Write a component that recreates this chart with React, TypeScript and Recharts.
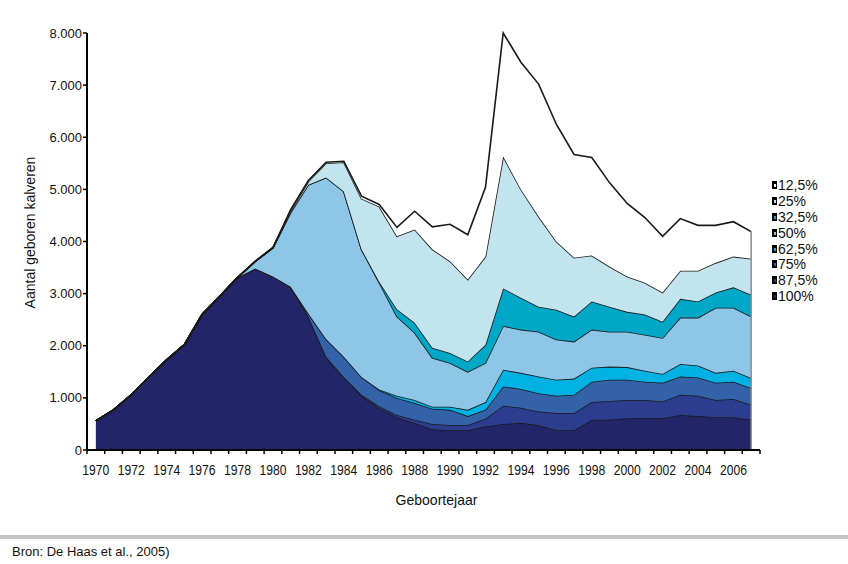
import React from 'react';
import { AreaChart, Area, XAxis, YAxis, ReferenceLine, Label } from 'recharts';

// Geboren kalveren per jaar, naar aandeel bloed (gestapeld, 100% onderaan)
const years = [
  1970, 1971, 1972, 1973, 1974, 1975, 1976, 1977, 1978, 1979,
  1980, 1981, 1982, 1983, 1984, 1985, 1986, 1987, 1988, 1989,
  1990, 1991, 1992, 1993, 1994, 1995, 1996, 1997, 1998, 1999,
  2000, 2001, 2002, 2003, 2004, 2005, 2006, 2007,
];

const p100 = [
  560, 770, 1060, 1400, 1730, 2020, 2600, 2950, 3310, 3480,
  3330, 3130, 2560, 1790, 1400, 1040, 800, 630, 520, 400,
  380, 380, 450, 500, 520, 480, 380, 380, 580, 580,
  610, 610, 610, 670, 650, 630, 630, 580,
];
const p875 = [
  0, 0, 0, 0, 0, 0, 0, 0, 0, 0,
  0, 0, 0, 0, 0, 20, 40, 40, 60, 100,
  100, 100, 150, 350, 290, 260, 330, 330, 340, 360,
  350, 350, 320, 390, 390, 330, 350, 290,
];
const p75 = [
  0, 0, 0, 0, 0, 0, 0, 0, 0, 0,
  0, 0, 60, 340, 390, 340, 310, 330, 320, 290,
  290, 170, 170, 370, 360, 350, 330, 350, 390, 410,
  390, 350, 360, 350, 350, 330, 330, 320,
];
const p625 = [
  0, 0, 0, 0, 0, 0, 0, 0, 0, 0,
  0, 0, 0, 0, 0, 0, 10, 40, 60, 40,
  60, 120, 150, 320, 310, 320, 310, 310, 270, 250,
  240, 210, 170, 240, 230, 190, 210, 190,
];
const p50 = [
  0, 0, 0, 0, 0, 0, 0, 0, 0, 140,
  550, 1430, 2470, 3100, 3170, 2450, 2050, 1520, 1290, 940,
  840, 730, 750, 840, 830, 860, 770, 710, 730, 670,
  680, 690, 690, 890, 920, 1250, 1210, 1180,
];
const p325 = [
  0, 0, 0, 0, 0, 0, 0, 0, 0, 0,
  0, 0, 0, 0, 0, 0, 20, 140, 190, 190,
  190, 200, 350, 720, 610, 480, 570, 480, 540, 480,
  380, 390, 310, 360, 310, 290, 390, 420,
];
const p25 = [
  0, 0, 0, 0, 0, 0, 0, 0, 0, 0,
  0, 30, 60, 270, 560, 970, 1440, 1400, 1790, 1890,
  1760, 1570, 1690, 2530, 2080, 1730, 1310, 1130, 880, 770,
  680, 610, 560, 540, 590, 570, 590, 690,
];
const p125 = [
  0, 0, 0, 0, 0, 0, 0, 0, 0, 0,
  0, 20, 20, 20, 20, 50, 40, 170, 350, 430,
  710, 860, 1330, 2370, 2440, 2540, 2250, 1980, 1880, 1610,
  1400, 1250, 1080, 1000, 870, 720, 670, 520,
];

const yTicks = [0, 1000, 2000, 3000, 4000, 5000, 6000, 7000, 8000];

// legend order top -> bottom
const series = [
  { key: 'p125', name: '12,5%', color: '#ffffff', values: p125 },
  { key: 'p25', name: '25%', color: '#c2e4ee', values: p25 },
  { key: 'p325', name: '32,5%', color: '#00a7c6', values: p325 },
  { key: 'p50', name: '50%', color: '#8ec6e8', values: p50 },
  { key: 'p625', name: '62,5%', color: '#00b2e3', values: p625 },
  { key: 'p75', name: '75%', color: '#3462a8', values: p75 },
  { key: 'p875', name: '87,5%', color: '#2c3d90', values: p875 },
  { key: 'p100', name: '100%', color: '#222668', values: p100 },
];

const data = years.map((year, i) => {
  const row: any = { year };
  series.forEach((s) => (row[s.key] = s.values[i]));
  return row;
});

const lastTotal = series.reduce((sum, s) => sum + s.values[s.values.length - 1], 0);

// tick marks between the years, labels on every second year
const xTicks = years.map((y) => y - 0.5).concat([years[years.length - 1] + 0.5]);

const PLOT_W = 673;
const band = PLOT_W / years.length;

function YearTick({ x, y, payload }: any) {
  const year = payload.value + 0.5;
  if (year % 2 !== 0 || year > years[years.length - 1]) return null;
  return (
    <text
      x={x + band / 2}
      y={y}
      dy={19}
      textAnchor="middle"
      fontSize={14}
      textLength={27}
      lengthAdjust="spacingAndGlyphs"
      fontFamily="'Liberation Sans', Arial, sans-serif"
      fill="#111"
    >
      {year}
    </text>
  );
}

function XTitle({ viewBox }: any) {
  const { x, y, width } = viewBox;
  return (
    <text
      x={x + width / 2 + 13}
      y={y + 55}
      textAnchor="middle"
      fontSize={15}
      textLength={82}
      lengthAdjust="spacingAndGlyphs"
      fontFamily="'Liberation Sans', Arial, sans-serif"
      fill="#111"
    >
      Geboortejaar
    </text>
  );
}

const fmt = (v: number) => (v === 0 ? '0' : `${v / 1000}.000`);

function SideLegend() {
  return (
    <div
      style={{
        position: 'absolute',
        left: 771,
        top: 177,
        fontFamily: "'Liberation Sans', Arial, sans-serif",
        fontSize: 14,
        color: '#111',
      }}
    >
      {series.map((s) => (
        <div key={s.key} style={{ height: 15.9, lineHeight: '16px', display: 'flex', alignItems: 'center' }}>
          <svg width={7} height={8} style={{ marginRight: 0 }}>
            <rect x={1} y={0} width={5} height={8} fill="#000" />
            <rect x={3} y={3} width={2} height={3} fill={s.color} />
          </svg>
          <span>{s.name}</span>
        </div>
      ))}
    </div>
  );
}

export default function App() {
  const areas = [...series].reverse();
  return (
    <div style={{ position: 'absolute', left: 0, top: 0, width: 848, height: 564, background: '#fff' }}>
      <AreaChart
        width={848}
        height={520}
        data={data}
        margin={{ top: 33, right: 88, left: 27, bottom: 10 }}
      >
        <XAxis
          dataKey="year"
          type="number"
          domain={[1969.5, 2007.5]}
          ticks={xTicks}
          interval={0}
          tick={<YearTick />}
          tickSize={4}
          tickMargin={2}
          axisLine={{ stroke: '#000', strokeWidth: 2 }}
          tickLine={{ stroke: '#000', strokeWidth: 1.5 }}
          height={60}
        >
          <Label content={<XTitle />} />
        </XAxis>
        <YAxis
          domain={[0, 8000]}
          ticks={yTicks}
          interval={0}
          tickFormatter={fmt}
          width={60}
          tickSize={4}
          tickMargin={1}
          axisLine={{ stroke: '#000', strokeWidth: 2 }}
          tickLine={{ stroke: '#000', strokeWidth: 1.5 }}
          tick={{ fontFamily: "'Liberation Sans', Arial, sans-serif", fontSize: 13, fill: '#111' }}
        >
          <Label
            value="Aantal geboren kalveren"
            angle={-90}
            position="insideLeft"
            offset={3}
            dy={-9}
            style={{ textAnchor: 'middle', fontFamily: "'Liberation Sans', Arial, sans-serif", fontSize: 14, fill: '#111' }}
          />
        </YAxis>
        {areas.map((s) => (
          <Area
            key={s.key}
            dataKey={s.key}
            name={s.name}
            stackId="1"
            type="linear"
            stroke="#1a1a1a"
            strokeWidth={1.6}
            fill={s.color}
            fillOpacity={1}
            isAnimationActive={false}
          />
        ))}
        <ReferenceLine
          segment={[{ x: 2007, y: 0 }, { x: 2007, y: lastTotal }]}
          stroke="#8a8a8a"
          strokeWidth={1.5}
        />
      </AreaChart>
      <SideLegend />
      <div style={{ position: 'absolute', left: 0, top: 535, width: 848, height: 4, background: '#c4c4c4' }} />
      <div
        style={{
          position: 'absolute',
          left: 12,
          top: 544,
          fontFamily: "'Liberation Sans', Arial, sans-serif",
          fontSize: 13,
          color: '#111',
        }}
      >
        Bron: De Haas et al., 2005)
      </div>
    </div>
  );
}
